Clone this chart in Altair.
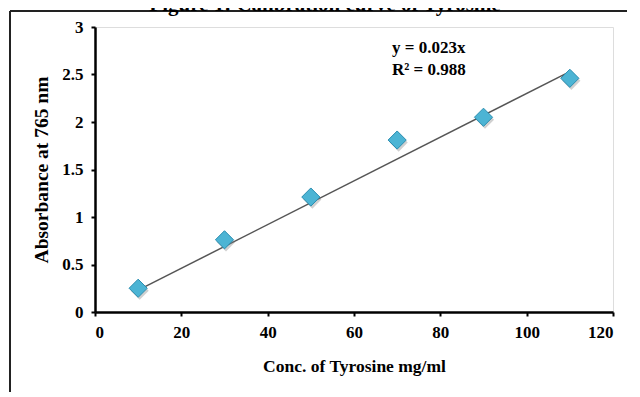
import altair as alt
import pandas as pd

# data
conc = [10, 30, 50, 70, 90, 110]
absorbance = [0.25, 0.76, 1.21, 1.81, 2.05, 2.46]
trend_x = [10, 110]
trend_y = [0.23, 2.53]
x_ticks = [0, 20, 40, 60, 80, 100, 120]
y_ticks = [0, 0.5, 1, 1.5, 2, 2.5, 3]
equation_lines = ["y = 0.023x", "R² = 0.988"]
title_text = "Figure 1: Calibration curve of Tyrosine"

pts = pd.DataFrame({"conc": conc, "abs": absorbance})
trend = pd.DataFrame({"conc": trend_x, "abs": trend_y})

FONT = "Liberation Serif"
W, H = 518, 285

xs = alt.Scale(domain=[0, 120], nice=False, zero=True)
ys = alt.Scale(domain=[0, 3], nice=False)

x_axis = alt.Axis(values=x_ticks, title="Conc. of Tyrosine mg/ml", grid=False, format="d",
                  domainColor="black", domainWidth=2.5, tickColor="black", tickWidth=2,
                  tickSize=4, labelFont=FONT, labelFontSize=17, labelFontWeight="bold",
                  labelColor="black", labelPadding=8, titleFont=FONT, titleFontSize=17.5,
                  titleFontWeight="bold", titleColor="black", titlePadding=17)
y_axis = alt.Axis(values=y_ticks, title="Absorbance at 765 nm", grid=False, format="~g",
                  domainColor="black", domainWidth=2.5, tickColor="black", tickWidth=2,
                  tickSize=4, labelFont=FONT, labelFontSize=17, labelFontWeight="bold",
                  labelColor="black", labelPadding=8, titleFont=FONT, titleFontSize=19.5,
                  titleFontWeight="bold", titleColor="black", titlePadding=10)

line = alt.Chart(trend).mark_line(color="#555555", strokeWidth=1.5).encode(
    x=alt.X("conc:Q", scale=xs, axis=x_axis),
    y=alt.Y("abs:Q", scale=ys, axis=y_axis),
)

shadow = alt.Chart(pts).mark_point(shape="diamond", filled=True, size=330, color="#777777",
                                   opacity=0.35, xOffset=1.5, yOffset=2.5).encode(
    x=alt.X("conc:Q", scale=xs), y=alt.Y("abs:Q", scale=ys))

points = alt.Chart(pts).mark_point(shape="diamond", filled=True, size=330, fill="#4cb4d4",
                                   stroke="#2a8db0", strokeWidth=1, opacity=1).encode(
    x=alt.X("conc:Q", scale=xs), y=alt.Y("abs:Q", scale=ys))

one = pd.DataFrame({"a": [0]})


def eq_text(txt, ypix):
    return alt.Chart(one).mark_text(
        font=FONT, fontSize=17, fontWeight="bold", color="black", align="left",
        baseline="middle").encode(x=alt.value(297), y=alt.value(ypix), text=alt.value(txt))


eq1 = eq_text(equation_lines[0], 21)
eq2 = eq_text(equation_lines[1], 43)

title = alt.Chart(one).mark_text(
    font=FONT, fontSize=21, fontWeight="bold", color="black", align="center",
    baseline="alphabetic").encode(x=alt.value(230), y=alt.value(-16), text=alt.value(title_text))

frame_left = alt.Chart(one).mark_rule(color="#222222", strokeWidth=2).encode(
    x=alt.value(-85), y=alt.value(-16), y2=alt.value(H + 90))
frame_top = alt.Chart(one).mark_rule(color="#222222", strokeWidth=2).encode(
    x=alt.value(-85), x2=alt.value(W + 30), y=alt.value(-16))

chart = alt.layer(frame_left, frame_top, title, line, shadow, points, eq1, eq2).properties(
    width=W, height=H,
    autosize=alt.AutoSizeParams(type="none"),
    padding={"left": 87, "top": 19, "right": 14, "bottom": 80},
).configure_view(stroke=None).configure(background="white")

chart.save("out.html", embed_options={"renderer": "svg", "actions": False})
